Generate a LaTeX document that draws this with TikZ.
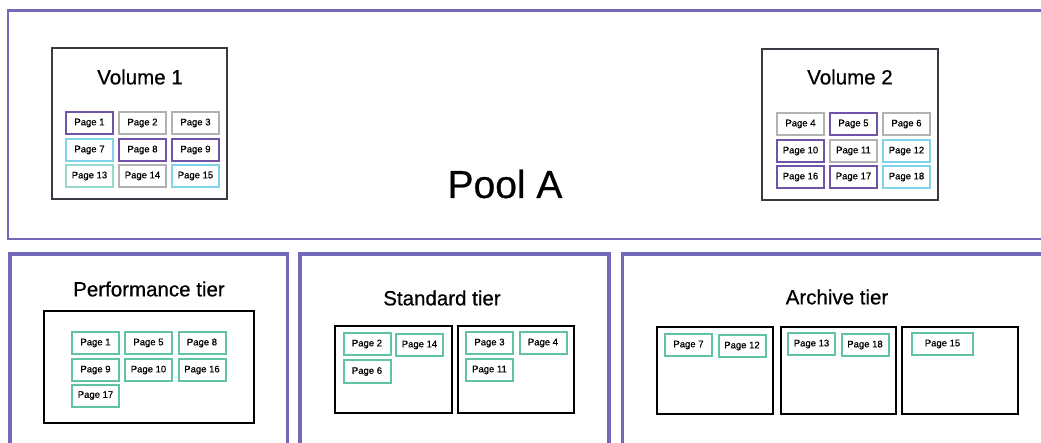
\documentclass[tikz,border=0pt]{standalone}
\usepackage{fontspec}
\setmainfont{Liberation Sans}[FakeBold=0.6]
\definecolor{poolc}{RGB}{114,106,184}
\definecolor{purp}{RGB}{112,84,168}
\definecolor{grayc}{RGB}{178,178,178}
\definecolor{cyanc}{RGB}{128,212,232}
\definecolor{mintc}{RGB}{150,218,206}
\definecolor{greenc}{RGB}{96,196,160}
\definecolor{volc}{RGB}{58,58,66}
\begin{document}
\begin{tikzpicture}[x=1pt,y=-1pt,
  poolbox/.style={draw=poolc,line width=2.3pt},
  tierbox/.style={draw=poolc,line width=3.4pt},
  volbox/.style={draw=volc,line width=2.2pt},
  binbox/.style={draw=black,line width=2pt},
  pg/.style={draw=#1,line width=2pt,minimum width=47pt,minimum height=22pt,inner sep=0pt,font=\fontsize{9.5}{10}\selectfont},
  vtitle/.style={font=\fontsize{20.5}{22}\selectfont},
  ttitle/.style={font=\fontsize{20.5}{22}\selectfont},
]
\useasboundingbox (0,0) rectangle (1041,443);
\fill[white] (0,0) rectangle (1041,443);

% Pool A
\draw[poolbox] (1060,10.5) -- (8,10.5) -- (8,239) -- (1060,239);
\node[font=\fontsize{39}{40}\selectfont] (pool) at (505,184) {Pool A};

% Volume 1
\draw[volbox] (52,48) rectangle (227,199);
\node[vtitle] (v1) at (140,77) {Volume 1};
\node[pg=purp]  (v1p1)  at (89.5,123) {Page 1};
\node[pg=grayc] (v1p2)  at (142.5,123) {Page 2};
\node[pg=grayc] (v1p3)  at (195.5,123) {Page 3};
\node[pg=cyanc] (v1p7)  at (89.5,150) {Page 7};
\node[pg=purp]  (v1p8)  at (142.5,150) {Page 8};
\node[pg=purp]  (v1p9)  at (195.5,150) {Page 9};
\node[pg=mintc] (v1p13) at (89.5,176) {Page 13};
\node[pg=grayc] (v1p14) at (142.5,176) {Page 14};
\node[pg=cyanc] (v1p15) at (195.5,176) {Page 15};

% Volume 2
\draw[volbox] (762,49) rectangle (938,200);
\node[vtitle] (v2) at (850,77) {Volume 2};
\node[pg=grayc] (v2p4)  at (800.5,124) {Page 4};
\node[pg=purp]  (v2p5)  at (853.5,124) {Page 5};
\node[pg=grayc] (v2p6)  at (906.5,124) {Page 6};
\node[pg=purp]  (v2p10) at (800.5,151) {Page 10};
\node[pg=grayc] (v2p11) at (853.5,151) {Page 11};
\node[pg=cyanc] (v2p12) at (906.5,151) {Page 12};
\node[pg=purp]  (v2p16) at (800.5,177) {Page 16};
\node[pg=purp]  (v2p17) at (853.5,177) {Page 17};
\node[pg=cyanc] (v2p18) at (906.5,177) {Page 18};

% Tiers
\draw[tierbox] (10,460) -- (10,254) -- (287.5,254) -- (287.5,460);
\draw[tierbox] (300,460) -- (300,254) -- (609,254) -- (609,460);
\draw[tierbox] (622.5,460) -- (622.5,254) -- (1060,254);

% Performance tier
\node[ttitle] (perf) at (149,289) {Performance tier};
\draw[binbox] (44,311) rectangle (254,423);
\node[pg=greenc] (pp1)  at (95.5,343) {Page 1};
\node[pg=greenc] (pp5)  at (148.5,343) {Page 5};
\node[pg=greenc] (pp8)  at (202,343) {Page 8};
\node[pg=greenc] (pp9)  at (95.5,370) {Page 9};
\node[pg=greenc] (pp10) at (148.5,370) {Page 10};
\node[pg=greenc] (pp16) at (202,370) {Page 16};
\node[pg=greenc] (pp17) at (95.5,395.5) {Page 17};

% Standard tier
\node[ttitle] (std) at (442,298) {Standard tier};
\draw[binbox] (335,326) rectangle (452,413);
\draw[binbox] (458,326) rectangle (574,413);
\node[pg=greenc] (sp2)  at (367,344) {Page 2};
\node[pg=greenc] (sp14) at (419.5,345) {Page 14};
\node[pg=greenc] (sp6)  at (367,371.5) {Page 6};
\node[pg=greenc] (sp3)  at (489.5,343) {Page 3};
\node[pg=greenc] (sp4)  at (543,343) {Page 4};
\node[pg=greenc] (sp11) at (489.5,370) {Page 11};

% Archive tier
\node[ttitle] (arc) at (837,297) {Archive tier};
\draw[binbox] (657,327) rectangle (773,414);
\draw[binbox] (781,327) rectangle (896,414);
\draw[binbox] (902,327) rectangle (1018,414);
\node[pg=greenc] (ap7)  at (688.5,345) {Page 7};
\node[pg=greenc] (ap12) at (742,346) {Page 12};
\node[pg=greenc] (ap13) at (811.5,344) {Page 13};
\node[pg=greenc] (ap18) at (865,345) {Page 18};
\node[pg=greenc,minimum width=61pt] (ap15) at (942.5,344) {Page 15};
\end{tikzpicture}
\end{document}
